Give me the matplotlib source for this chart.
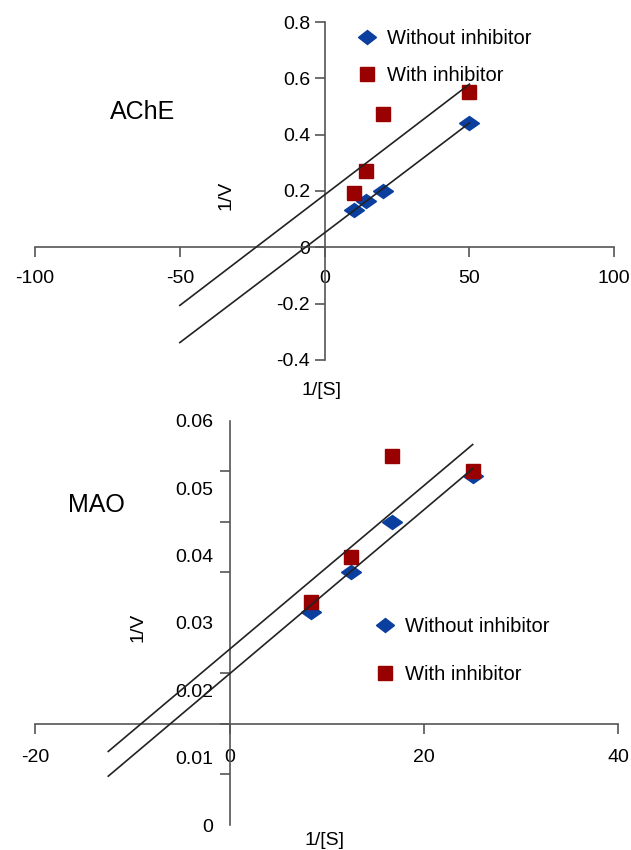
import numpy as np
import matplotlib
matplotlib.use("Agg")
import matplotlib.pyplot as plt
from matplotlib.markers import MarkerStyle
from matplotlib.transforms import Affine2D
from matplotlib.lines import Line2D

plt.rcParams['font.family'] = ['Liberation Sans', 'DejaVu Sans']

# ---- data ----
ache_x = [10, 14.3, 20, 50]
ache_without = [0.133, 0.165, 0.201, 0.443]
ache_with = [0.193, 0.271, 0.473, 0.550]
ache_line_range = [-50, 50]

mao_x = [8.33, 12.5, 16.67, 25]
mao_without = [0.0316, 0.0375, 0.0450, 0.0518]
mao_with = [0.0331, 0.0398, 0.0548, 0.0526]
mao_line_range = [-12.5, 25]

series_labels = ["Without inhibitor", "With inhibitor"]
ache_xticks = [-100, -50, 0, 50, 100]
ache_yticks = [-0.4, -0.2, 0, 0.2, 0.4, 0.6, 0.8]
mao_xticks = [-20, 0, 20, 40]
mao_ylabels = [0, 0.01, 0.02, 0.03, 0.04, 0.05, 0.06]
mao_ytickmarks = [0, 0.0075, 0.015, 0.0225, 0.03, 0.0375, 0.045, 0.0525, 0.06]

BLUE = "#0b3f9f"
RED = "#990000"
SPINE = "#555555"
diamond = MarkerStyle('D', transform=Affine2D().scale(1.3, 1.0))

fig = plt.figure(figsize=(6.31, 8.5), dpi=100)
ax1 = fig.add_axes([0.0555, 0.5765, 0.918, 0.3976])
ax2 = fig.add_axes([0.0561, 0.0294, 0.924, 0.4757])


def style_axes(ax, y_cross, xpad, ypad):
    for s in ['top', 'right']:
        ax.spines[s].set_visible(False)
    ax.spines['left'].set_position(('data', 0))
    ax.spines['bottom'].set_position(('data', y_cross))
    for s in ['left', 'bottom']:
        ax.spines[s].set_color(SPINE)
        ax.spines[s].set_linewidth(1.2)
    ax.tick_params(axis='both', direction='out', length=7, width=1.2,
                   color=SPINE, labelsize=14)
    ax.tick_params(axis='x', pad=xpad)
    ax.tick_params(axis='y', pad=ypad)


def plot_panel(ax, xs, yw, yi, xr):
    ax.plot(xs, yw, linestyle='none', marker=diamond, markersize=7.5,
            color=BLUE, zorder=3)
    ax.plot(xs, yi, linestyle='none', marker='s', markersize=10.5,
            color=RED, zorder=3)
    xx = np.array(xr, dtype=float)
    for ys in (yw, yi):
        k, b = np.polyfit(xs, ys, 1)
        ax.plot(xx, k * xx + b, color='#222222', lw=1.2, zorder=4)


def legend(ax, anchor, spacing):
    handles = [Line2D([], [], linestyle='none', marker=diamond, markersize=7,
                      color=BLUE),
               Line2D([], [], linestyle='none', marker='s', markersize=9.5,
                      color=RED)]
    ax.legend(handles, series_labels, loc='upper left', bbox_to_anchor=anchor,
              frameon=False, fontsize=14.5, labelspacing=spacing,
              handlelength=1.0, handletextpad=0.5, borderpad=0,
              borderaxespad=0)


# ---- AChE ----
plot_panel(ax1, ache_x, ache_without, ache_with, ache_line_range)
ax1.set_xlim(-100, 100)
ax1.set_ylim(-0.4, 0.8)
style_axes(ax1, 0, 9, 3.5)
ax1.set_xticks(ache_xticks)
ax1.set_xticklabels([f"{v:g}" for v in ache_xticks])
ax1.set_yticks(ache_yticks)
ax1.set_yticklabels([f"{v:g}" for v in ache_yticks])
ax1.set_ylabel("1/V", fontsize=14)
ax1.yaxis.set_label_coords(0.345, 0.488)
ax1.set_xlabel("1/[S]", fontsize=14)
ax1.xaxis.set_label_coords(0.494, -0.066)
ax1.text(0.185, 0.734, "AChE", transform=ax1.transAxes, fontsize=18,
         ha='center', va='center')
legend(ax1, (0.555, 0.978), 0.875)

# ---- MAO ----
plot_panel(ax2, mao_x, mao_without, mao_with, mao_line_range)
ax2.set_xlim(-20, 40)
ax2.set_ylim(0, 0.06)
style_axes(ax2, 0.015, 11, 5)
ax2.set_xticks(mao_xticks)
ax2.set_xticklabels([f"{v:g}" for v in mao_xticks])
ax2.set_yticks(mao_ylabels)
ax2.set_yticklabels([f"{v:g}" for v in mao_ylabels])
ax2.tick_params(axis='y', which='major', color=(0, 0, 0, 0))
ax2.set_yticks(mao_ytickmarks, minor=True)
ax2.tick_params(axis='y', which='minor', direction='out', length=7,
                width=1.2, color=SPINE)
ax2.set_ylabel("1/V", fontsize=14)
ax2.yaxis.set_label_coords(0.191, 0.49)
ax2.set_xlabel("1/[S]", fontsize=14)
ax2.xaxis.set_label_coords(0.495, -0.017)
ax2.text(0.104, 0.792, "MAO", transform=ax2.transAxes, fontsize=18,
         ha='center', va='center')
legend(ax2, (0.582, 0.515), 1.47)

fig.savefig("out.png", dpi=100)
